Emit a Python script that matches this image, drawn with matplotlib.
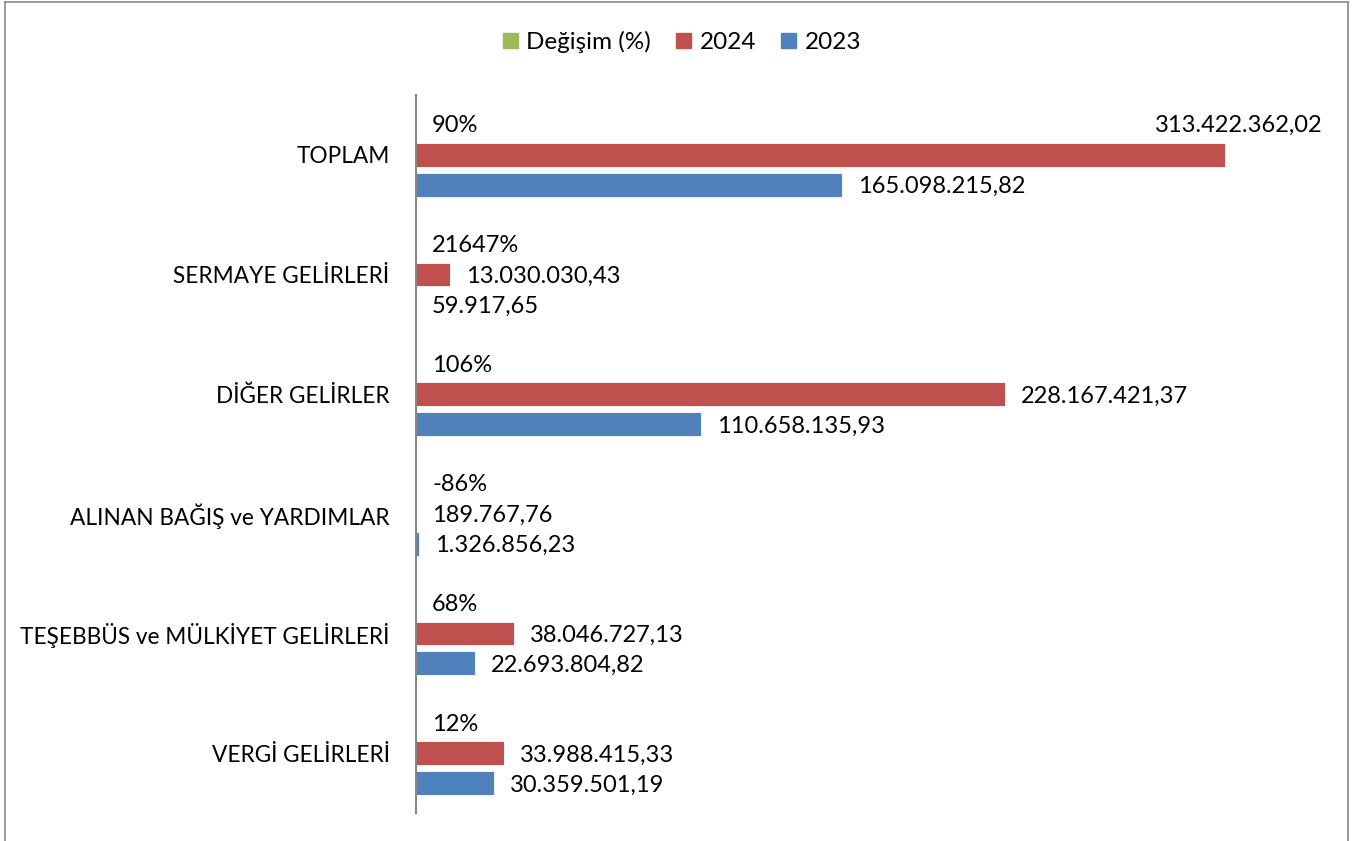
import matplotlib
matplotlib.use("Agg")
import matplotlib.pyplot as plt
from matplotlib.patches import Patch
from matplotlib.lines import Line2D
import numpy as np

plt.rcParams['font.family'] = ['Lato', 'DejaVu Sans']

categories = ["VERGİ GELİRLERİ", "TEŞEBBÜS ve MÜLKİYET GELİRLERİ", "ALINAN BAĞIŞ ve YARDIMLAR",
              "DİĞER GELİRLER", "SERMAYE GELİRLERİ", "TOPLAM"]
values_2024 = [33988415.33, 38046727.13, 189767.76, 228167421.37, 13030030.43, 313422362.02]
values_2023 = [30359501.19, 22693804.82, 1326856.23, 110658135.93, 59917.65, 165098215.82]
change_pct = [0.12, 0.68, -0.86, 1.06, 216.47, 0.90]

C_GREEN = "#9BBB59"
C_RED = "#C0504D"
C_BLUE = "#4F81BD"
FS = 17

W, H = 1355, 841
fig = plt.figure(figsize=(W / 100, H / 100), dpi=100)
ax_left, ax_right = 416, 1335
ax_top, ax_bot = 95, 813
ax = fig.add_axes([ax_left / W, 1 - ax_bot / H, (ax_right - ax_left) / W, (ax_bot - ax_top) / H])

scale = (1224 - 415.5) / 313.42e6  # px per unit
xmax = (ax_right - ax_left) / scale
ax.set_xlim(0, xmax)
ax.set_ylim(-0.5, len(categories) - 0.5)

y = np.arange(len(categories))
slot = 0.25
bh = 0.2
ax.barh(y + slot, change_pct, height=bh, color=C_GREEN, edgecolor="white", linewidth=0.6)
ax.barh(y, values_2024, height=bh, color=C_RED, edgecolor="white", linewidth=0.6)
ax.barh(y - slot, values_2023, height=bh, color=C_BLUE, edgecolor="white", linewidth=0.6)


def tr(v):
    s = f"{v:,.2f}"
    return s.replace(",", "X").replace(".", ",").replace("X", ".")


OFF = 16
for i in range(len(categories)):
    ax.annotate(f"{round(change_pct[i] * 100)}%", xy=(0, y[i] + slot), xytext=(OFF, -1),
                textcoords="offset pixels", ha="left", va="center", fontsize=FS)
    if i == len(categories) - 1:
        ax.annotate(tr(values_2024[i]), xy=(values_2024[i], y[i] + slot), xytext=(98, 0),
                    textcoords="offset pixels", ha="right", va="center", fontsize=FS)
    else:
        ax.annotate(tr(values_2024[i]), xy=(values_2024[i], y[i]), xytext=(OFF, -2),
                    textcoords="offset pixels", ha="left", va="center", fontsize=FS)
    ax.annotate(tr(values_2023[i]), xy=(values_2023[i], y[i] - slot), xytext=(OFF, -2),
                textcoords="offset pixels", ha="left", va="center", fontsize=FS)

ax.set_yticks(y)
ax.set_yticklabels(categories, fontsize=16.3)
ax.tick_params(axis="y", length=0, pad=19)
ax.set_xticks([])
for s in ["top", "right", "bottom"]:
    ax.spines[s].set_visible(False)
ax.spines["left"].set_color("#868686")
ax.spines["left"].set_linewidth(1.5)

handles = [Patch(color=C_GREEN, label="Değişim (%)"),
           Patch(color=C_RED, label="2024"),
           Patch(color=C_BLUE, label="2023")]
fig.legend(handles=handles, loc="center", bbox_to_anchor=(682 / W, 1 - 42 / H), ncol=3,
           frameon=False, fontsize=17.5, handlelength=0.6, handleheight=0.6,
           handletextpad=0.35, columnspacing=1.05)

# chart area border
bc = "#898989"
fig.add_artist(Line2D([4.5 / W, 4.5 / W], [0, 1 - 1.5 / H], color=bc, lw=1.2, transform=fig.transFigure))
fig.add_artist(Line2D([4.5 / W, 1347.5 / W], [1 - 1.5 / H, 1 - 1.5 / H], color=bc, lw=1.2, transform=fig.transFigure))
fig.add_artist(Line2D([1347.5 / W, 1347.5 / W], [0, 1 - 1.5 / H], color=bc, lw=1.2, transform=fig.transFigure))

fig.savefig("out.png", dpi=100, facecolor="white")
